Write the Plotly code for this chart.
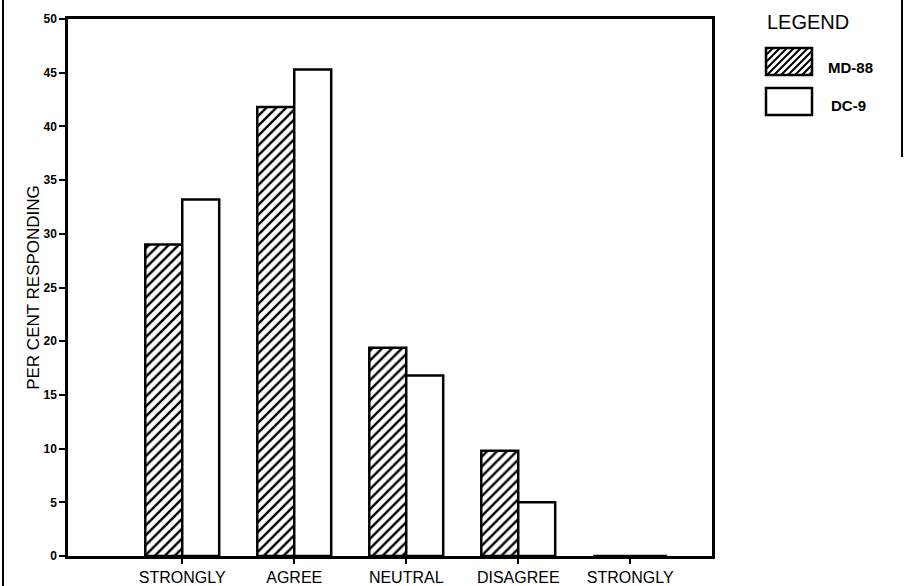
import plotly.graph_objects as go

# ---- data ----
CATEGORIES = ["STRONGLY", "AGREE", "NEUTRAL", "DISAGREE", "STRONGLY"]
MD88 = [29.0, 41.8, 19.4, 9.8, 0.0]
DC9 = [33.2, 45.3, 16.8, 5.0, 0.0]
SERIES_NAMES = ["MD-88", "DC-9"]
Y_TICKS = [0, 5, 10, 15, 20, 25, 30, 35, 40, 45, 50]
Y_TITLE = "PER CENT RESPONDING"
LEGEND_TITLE = "LEGEND"

# ---- layout constants (pixels) ----
W, H = 904, 586
L, R, T, B = 68, 192, 19, 30
PW = W - L - R
PH = H - T - B


def px(x):
    return (x - L) / PW


def py(y):
    return (H - B - y) / PH


x_pos = list(range(len(CATEGORIES)))
FONT = "Liberation Sans, Arial, sans-serif"

fig = go.Figure()
fig.add_bar(
    x=x_pos, y=MD88, name=SERIES_NAMES[0], showlegend=False,
    marker=dict(
        color="white",
        pattern=dict(shape="/", fgcolor="black", bgcolor="white",
                     size=7, solidity=0.34, fillmode="replace"),
        line=dict(color="black", width=2.5),
    ),
)
fig.add_bar(
    x=x_pos, y=DC9, name=SERIES_NAMES[1], showlegend=False,
    marker=dict(color="white", line=dict(color="black", width=2.5)),
)

fig.update_layout(
    width=W, height=H,
    margin=dict(l=L, r=R, t=T, b=B, pad=0, autoexpand=False),
    paper_bgcolor="white", plot_bgcolor="white",
    barmode="group", bargap=0.34, bargroupgap=0,
    font=dict(family=FONT, color="black"),
)
fig.update_xaxes(
    range=[-1.02, 4.73], tickvals=x_pos, ticktext=CATEGORIES,
    ticks="outside", ticklen=5, tickwidth=2, tickcolor="black",
    showline=True, linewidth=2.5, linecolor="black", mirror=True,
    showgrid=False, zeroline=False, ticklabelstandoff=0, automargin=False,
    tickfont=dict(family=FONT, size=16, color="black"),
)
fig.update_yaxes(
    range=[0, 50], tickvals=Y_TICKS,
    ticks="outside", ticklen=6, tickwidth=2, tickcolor="black",
    showline=True, linewidth=2.5, linecolor="black", mirror=True,
    showgrid=False, zeroline=False, automargin=False,
    tickfont=dict(family=FONT, size=12, color="black", weight="bold"),
    title=dict(text=Y_TITLE, font=dict(family=FONT, size=17, color="black"),
               standoff=0),
)

shapes = []
# outer frame fragments
shapes.append(dict(type="line", xref="paper", yref="paper",
                   x0=px(3), x1=px(3), y0=py(0), y1=py(H),
                   line=dict(color="black", width=2)))
shapes.append(dict(type="line", xref="paper", yref="paper",
                   x0=px(902), x1=px(902), y0=py(0), y1=py(157),
                   line=dict(color="black", width=2)))

# legend swatches
sw_x0, sw_x1 = 766, 812
sw1 = (48, 75)
sw2 = (88, 115)


def hatch_path(x0, y0, x1, y1, step):
    segs = []
    c = x0 + y0 + step
    while c < x1 + y1:
        xa = max(x0, c - y1)
        xb = min(x1, c - y0)
        segs.append(f"M{px(xa)},{py(c - xa)} L{px(xb)},{py(c - xb)}")
        c += step
    return " ".join(segs)


shapes.append(dict(type="path", xref="paper", yref="paper",
                   path=hatch_path(sw_x0, sw1[0], sw_x1, sw1[1], 7),
                   line=dict(color="black", width=2)))
for (a, b) in (sw1, sw2):
    shapes.append(dict(type="rect", xref="paper", yref="paper",
                       x0=px(sw_x0), x1=px(sw_x1), y0=py(b), y1=py(a),
                       line=dict(color="black", width=2.5)))
fig.update_layout(shapes=shapes)

annotations = [
    dict(text=LEGEND_TITLE, x=px(765), y=py(22), xref="paper", yref="paper",
         xanchor="left", yanchor="middle", showarrow=False,
         font=dict(family=FONT, size=20, color="black")),
    dict(text=SERIES_NAMES[0], x=px(826), y=py(68), xref="paper", yref="paper",
         xanchor="left", yanchor="middle", showarrow=False,
         font=dict(family=FONT, size=15, color="black", weight="bold")),
    dict(text=SERIES_NAMES[1], x=px(829), y=py(105), xref="paper", yref="paper",
         xanchor="left", yanchor="middle", showarrow=False,
         font=dict(family=FONT, size=15, color="black", weight="bold")),
]
fig.update_layout(annotations=annotations)

fig.write_html(
    "out.html",
    config={"displayModeBar": False},
    post_script="document.body.style.margin='0px';document.body.style.overflow='hidden';",
)
